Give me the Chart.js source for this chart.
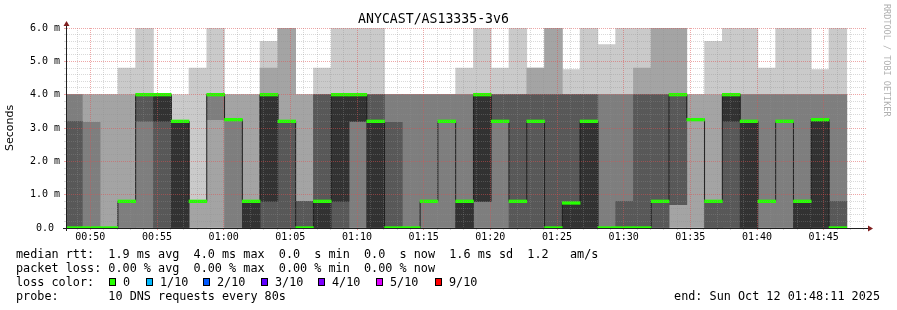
<!DOCTYPE html>
<html>
<head>
<meta charset="utf-8">
<title>ANYCAST/AS13335-3v6</title>
<script src="https://cdn.jsdelivr.net/npm/chart.js@4.4.1/dist/chart.umd.min.js"></script>
<style>
  html, body { margin: 0; padding: 0; background: #fff; }
  #graph { position: relative; width: 897px; height: 310px; overflow: hidden; }
  #graph canvas { position: absolute; left: 0; top: 0; }
  .txt { position: absolute; font: 11.8px/14px 'DejaVu Sans Mono', monospace; white-space: pre; color: #000; }
  .swatch { position: absolute; top: 278px; width: 5px; height: 6px; border: 1px solid #000; }
  #credit { position: absolute; left: 882px; top: 4px; writing-mode: vertical-rl; font: 8.5px/10px 'DejaVu Sans Mono', monospace; color: #b0b0b0; white-space: pre; }
</style>
</head>
<body>
<div id="graph">
  <canvas id="smoke" width="897" height="310"></canvas>
  <div id="credit">RRDTOOL / TOBI OETIKER</div>
  <div class="txt" style="left:16px;top:247px">median rtt:  1.9 ms avg  4.0 ms max  0.0  s min  0.0  s now  1.6 ms sd  1.2   am/s</div>
  <div class="txt" style="left:16px;top:261px">packet loss: 0.00 % avg  0.00 % max  0.00 % min  0.00 % now</div>
  <div class="txt" style="left:16px;top:275px">loss color:</div>
  <div class="txt" style="left:16px;top:289px">probe:       10 DNS requests every 80s</div>
  <div class="txt" style="right:17px;top:289px">end: Sun Oct 12 01:48:11 2025</div>
</div>
<script>
// 80 s slots, 10 DNS pings each (sorted low -> high), values in ms
const stepSeconds = 80;
const firstSlotMid = 48 + 44 / 60;   // 00:48:44, middle of the first slot (minutes after midnight)
const windowStart = 48.25;           // 00:48:15
const windowEnd = 108.25;            // 01:48:15

const timeLabels = ['00:50', '00:55', '01:00', '01:05', '01:10', '01:15',
                    '01:20', '01:25', '01:30', '01:35', '01:40', '01:45'];
const valueLabels = ['0.0 ', '1.0 m', '2.0 m', '3.0 m', '4.0 m', '5.0 m', '6.0 m'];

const ping1 = [0, 0, 0, 0, 0, 0, 0, 0, 0, 0,
               0, 0, 0, 0, 0, 0, 0, 0, 0, 0,
               0, 0, 0, 0, 0, 0, 0, 0, 0, 0,
               0, 0, 0, 0, 0, 0, 0, 0, 0, 0,
               0, 0, 0, 0];
const ping2 = [0, 0, 0, 0, 0, 0, 0, 0, 0, 0,
               0, 0, 0, 0, 0, 0, 0, 0, 0, 0,
               0, 0, 0, 0, 0, 0, 0, 0, 0, 0,
               0, 0, 0, 0, 0, 0, 0, 0, 0, 0,
               0, 0, 0, 0];
const ping3 = [0, 0, 0, 0, 0, 0, 0, 0.8, 3.25, 0,
               0, 0, 0, 0, 0, 0, 0, 0, 0, 0,
               0, 0, 0, 0, 0, 0, 0, 0, 0, 0,
               0, 0, 0, 0, 0.7, 3.25, 0, 0, 0, 0,
               0, 0, 0, 0];
const ping4 = [0, 0, 0, 0.8, 3.2, 0, 0, 0.8, 4, 3.25,
               0, 0, 0, 0, 0, 0, 3.2, 0, 0, 0,
               0.8, 3.2, 0, 0.8, 3.2, 0, 0, 0, 0, 0,
               0, 0, 0, 0, 0.7, 3.25, 0, 0, 0, 0.8,
               3.2, 0, 0, 0];
const ping5 = [0, 0, 0, 0.8, 4, 3.2, 0, 0.8, 4, 3.25,
               0, 0.8, 3.2, 0, 0, 0.8, 3.2, 0, 0, 0,
               0.8, 3.2, 0, 0.8, 3.2, 0.8, 3.2, 0, 0, 0,
               0, 0, 0, 0.8, 4, 3.25, 0.8, 3.2, 0, 0.8,
               3.2, 0, 0, 0];
const ping6 = [0, 0, 0, 0.8, 4, 4, 3.2, 0.8, 4, 3.25,
               0.8, 4, 3.2, 0, 0.8, 4, 4, 3.2, 0, 0,
               0.8, 3.2, 0.8, 4, 3.2, 0.8, 3.2, 0, 0.75, 3.2,
               0, 0, 0, 0.8, 4, 3.25, 0.8, 4, 3.2, 0.8,
               3.2, 0.8, 3.25, 0];
const ping7 = [3.2, 0, 0, 0.8, 4, 4, 3.2, 0.8, 4, 3.25,
               0.8, 4, 3.2, 0.8, 4, 4, 4, 4, 3.17, 0,
               0.8, 3.2, 0.8, 4, 4, 4, 4, 4, 4, 4,
               0, 0.8, 4, 4, 4, 3.25, 0.8, 4, 3.2, 0.8,
               3.2, 0.8, 3.25, 0.8];
const ping8 = [4, 3.17, 0, 0.8, 4, 4, 3.2, 0.8, 4, 3.25,
               0.8, 4, 3.2, 0.8, 4, 4, 4, 4, 4, 4,
               4, 4, 4, 4, 4, 4, 4, 4, 4, 4,
               4, 4, 4, 4, 4, 3.25, 0.8, 4, 4, 4,
               4, 4, 4, 4];
const ping9 = [4, 4, 4, 4, 4, 4, 3.2, 0.8, 4, 4,
               4, 4.8, 6, 4, 4, 4, 4, 4, 4, 4,
               4, 4, 4, 4, 4, 4, 4.8, 6, 4, 4,
               4, 4, 4.8, 6, 6, 4, 4, 4, 4, 4,
               4, 4, 4, 4];
const ping10 = [4, 4, 4, 4.8, 6, 4, 4, 4.8, 6, 4,
                4, 5.6, 6, 4, 4.8, 6, 6, 6, 4, 4,
                4, 4, 4.8, 6, 4.8, 6, 4.8, 6, 4.75, 6,
                5.5, 6, 6, 6, 6, 4, 5.6, 6, 6, 4.8,
                6, 6, 4.75, 6];

const median = [0, 0, 0, 0.8, 4, 4, 3.2, 0.8, 4, 3.25,
                0.8, 4, 3.2, 0, 0.8, 4, 4, 3.2, 0, 0,
                0.8, 3.2, 0.8, 4, 3.2, 0.8, 3.2, 0, 0.75, 3.2,
                0, 0, 0, 0.8, 4, 3.25, 0.8, 4, 3.2, 0.8,
                3.2, 0.8, 3.25, 0];
const lostPings = [0, 0, 0, 0, 0, 0, 0, 0, 0, 0,
                   0, 0, 0, 0, 0, 0, 0, 0, 0, 0,
                   0, 0, 0, 0, 0, 0, 0, 0, 0, 0,
                   0, 0, 0, 0, 0, 0, 0, 0, 0, 0,
                   0, 0, 0, 0];

const lossSteps = [0, 1, 2, 3, 4, 5, 9];
const lossLabels = ['0', '1/10', '2/10', '3/10', '4/10', '5/10', '9/10'];
const lossColors = ['#26ff00', '#00b8ff', '#0059ff', '#5e00ff', '#7e00ff', '#dd00ff', '#ff0000'];

// smokeping greys, innermost pair first
const greys = ['#323232', '#585858', '#7e7e7e', '#a4a4a4', '#cacaca'];
const pings = [ping1, ping2, ping3, ping4, ping5, ping6, ping7, ping8, ping9, ping10];

const slotMid = median.map((_, i) => firstSlotMid + i * stepSeconds / 60);

function lossColor(n) {
  let c = lossColors[0];
  lossSteps.forEach((s, k) => { if (n >= s) c = lossColors[k]; });
  return c;
}

// all bars share one stack name so they overlap in the same slot (y itself is not stacked)
const barBase = {
  type: 'bar',
  stack: 'slot',
  borderWidth: 0,
  barThickness: 'flex',
  barPercentage: 1,
  categoryPercentage: 1
};

const smokeSets = greys.map((col, k) => {
  const lo = pings[4 - k], hi = pings[5 + k];
  return Object.assign({}, barBase, {
    data: slotMid.map((x, i) => ({x: x, y: lo[i] === hi[i] ? null : [lo[i], hi[i]]})),
    backgroundColor: col
  });
});

const medianBand = Object.assign({}, barBase, {
  data: slotMid.map((x, i) => ({x: x, y: [median[i] - 0.04, median[i] + 0.04]})),
  backgroundColor: lostPings.map(lossColor)
});

const medianLine = {
  type: 'line',
  data: slotMid.map((x, i) => ({x: x, y: median[i]})),
  stepped: 'middle',
  borderColor: '#202020',
  borderWidth: 1,
  pointRadius: 0,
  fill: false
};

const minorGrid = 'rgba(143,143,143,0.34)';
const majorGrid = 'rgba(222,79,79,0.5)';

const axisArrows = {
  id: 'axisArrows',
  afterDraw(chart) {
    const ctx = chart.ctx, a = chart.chartArea;
    ctx.save();
    ctx.strokeStyle = '#1f1f1f';
    ctx.lineWidth = 1;
    ctx.beginPath();
    ctx.moveTo(a.left - 4, a.bottom + 0.5);
    ctx.lineTo(a.right + 2, a.bottom + 0.5);
    ctx.moveTo(a.left - 0.5, a.bottom + 3);
    ctx.lineTo(a.left - 0.5, a.top - 3);
    ctx.stroke();
    ctx.fillStyle = '#801f1f';
    ctx.beginPath();
    ctx.moveTo(a.right + 6, a.bottom + 0.5);
    ctx.lineTo(a.right + 1, a.bottom - 2.5);
    ctx.lineTo(a.right + 1, a.bottom + 3.5);
    ctx.closePath();
    ctx.fill();
    ctx.beginPath();
    ctx.moveTo(a.left - 0.5, a.top - 7);
    ctx.lineTo(a.left - 3.5, a.top - 2);
    ctx.lineTo(a.left + 2.5, a.top - 2);
    ctx.closePath();
    ctx.fill();
    ctx.restore();
  }
};

const isWhole = v => Math.abs(v - Math.round(v)) < 1e-6;

new Chart(document.getElementById('smoke'), {
  type: 'bar',
  data: {datasets: [medianBand, medianLine].concat(smokeSets)},
  options: {
    responsive: false,
    animation: false,
    layout: {padding: {left: 0, right: 30, top: 0, bottom: 0}},
    plugins: {
      legend: {display: false},
      tooltip: {enabled: false},
      title: {
        display: true,
        text: 'ANYCAST/AS13335-3v6',
        color: '#000',
        font: {family: 'DejaVu Sans Mono', size: 13.2, weight: 'normal'},
        padding: {top: 12, bottom: 0.16}
      }
    },
    scales: {
      x: {
        type: 'linear',
        min: windowStart,
        max: windowEnd,
        offset: false,
        afterBuildTicks: scale => {
          const t = [];
          for (let m = 49; m <= 108; m++) t.push({value: m});
          scale.ticks = t;
        },
        afterFit: scale => { scale.height = 82; },
        grid: {
          z: 1,
          offset: false,
          lineWidth: 1,
          tickLength: 2,
          color: c => (c.tick && c.tick.value % 5 === 0) ? majorGrid : minorGrid,
          tickColor: c => (c.tick && c.tick.value % 5 === 0) ? majorGrid : minorGrid
        },
        border: {display: false, dash: [1, 1]},
        ticks: {
          autoSkip: false,
          maxRotation: 0,
          padding: 1,
          color: '#000',
          font: {family: 'DejaVu Sans Mono', size: 10},
          callback: v => (v % 5 === 0 && timeLabels[(v - 50) / 5]) ? timeLabels[(v - 50) / 5] : ''
        }
      },
      y: {
        min: 0,
        max: 6,
        stacked: false,
        afterBuildTicks: scale => {
          const t = [];
          for (let i = 0; i <= 30; i++) t.push({value: i / 5});
          scale.ticks = t;
        },
        afterFit: scale => { scale.width = 67; },
        grid: {
          z: 1,
          lineWidth: 1,
          tickLength: 3,
          color: c => (c.tick && isWhole(c.tick.value)) ? majorGrid : minorGrid,
          tickColor: c => (c.tick && isWhole(c.tick.value)) ? majorGrid : minorGrid
        },
        border: {display: false, dash: [1, 1]},
        title: {
          display: true,
          text: 'Seconds',
          color: '#000',
          font: {family: 'DejaVu Sans', size: 11},
          padding: {top: 4, bottom: 0}
        },
        ticks: {
          autoSkip: false,
          padding: 4,
          color: '#000',
          font: {family: 'DejaVu Sans Mono', size: 10},
          callback: v => isWhole(v) ? valueLabels[Math.round(v)] : ''
        }
      }
    }
  },
  plugins: [axisArrows]
});

// loss colour key
const keyLeft = [109, 146, 203, 261, 318, 376, 435];
const graph = document.getElementById('graph');
lossLabels.forEach((lab, k) => {
  const sw = document.createElement('div');
  sw.className = 'swatch';
  sw.style.left = keyLeft[k] + 'px';
  sw.style.background = lossColors[k];
  graph.appendChild(sw);
  const t = document.createElement('div');
  t.className = 'txt';
  t.style.left = (keyLeft[k] + 14) + 'px';
  t.style.top = '275px';
  t.textContent = lab;
  graph.appendChild(t);
});
</script>
</body>
</html>
